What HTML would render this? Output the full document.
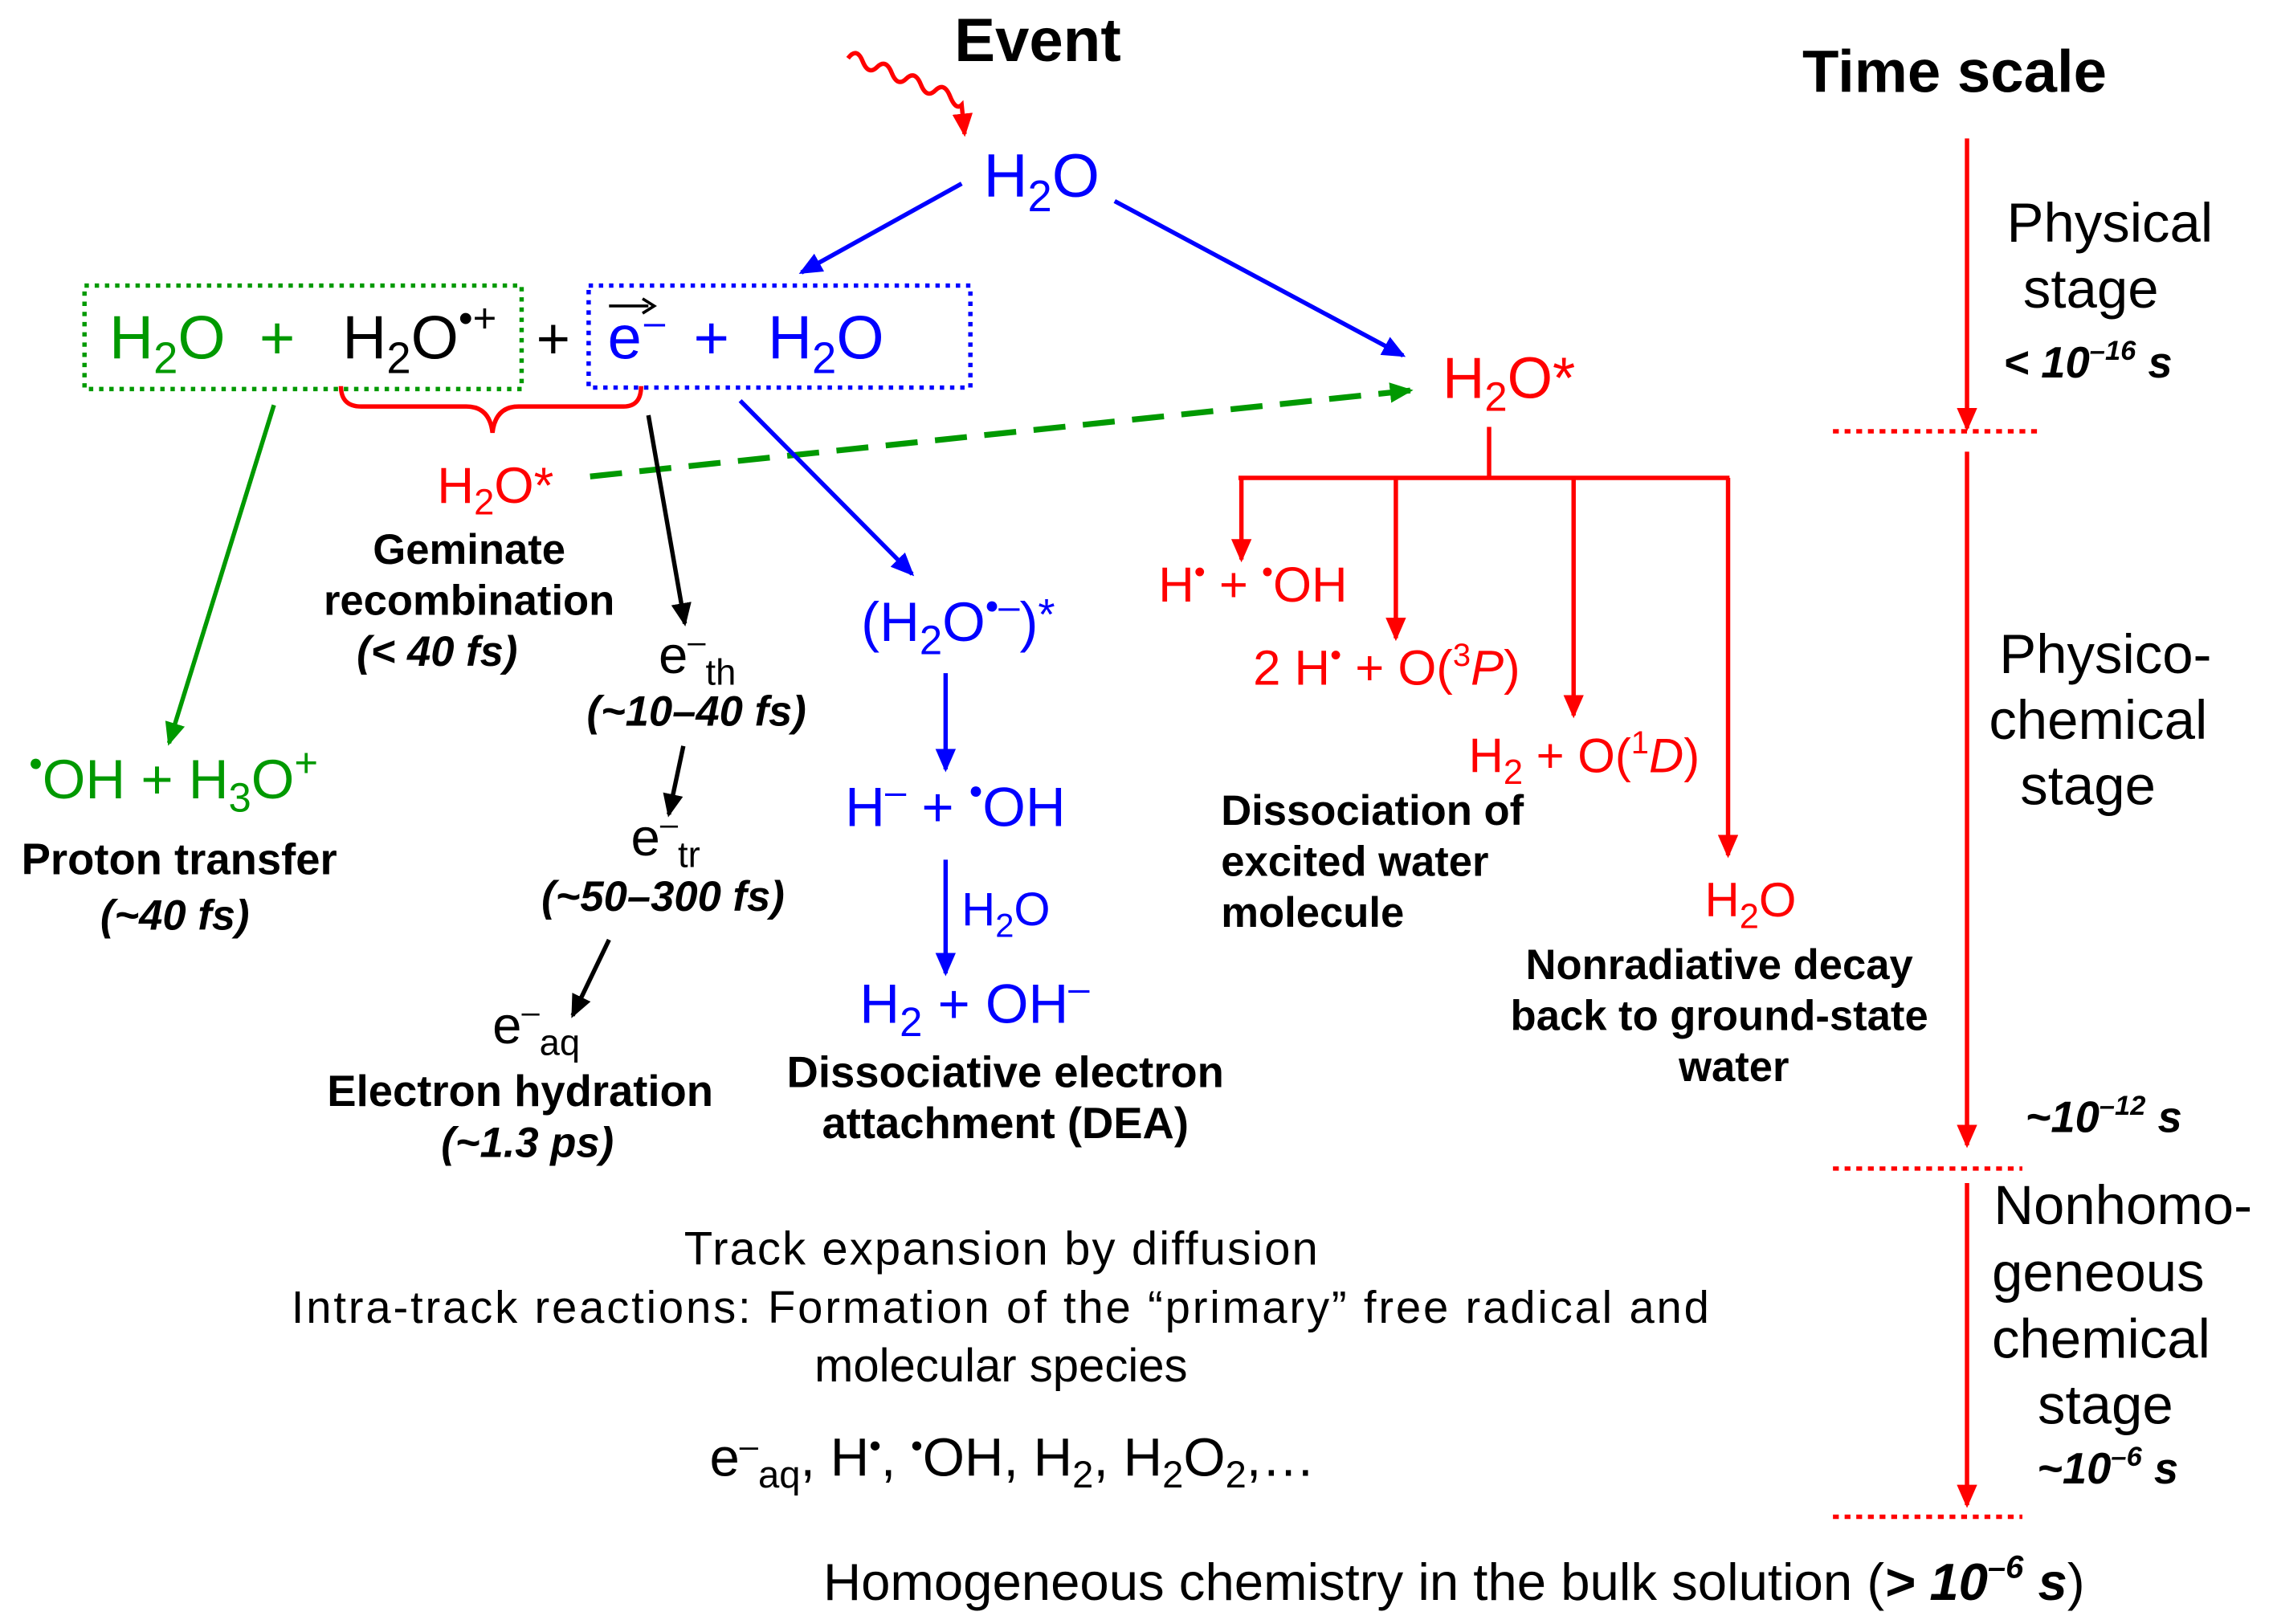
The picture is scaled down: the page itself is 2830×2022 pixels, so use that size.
<!DOCTYPE html>
<html><head><meta charset="utf-8"><style>
html,body{margin:0;padding:0;background:#fff;}
svg{display:block;}
text{font-family:"Liberation Sans",Arial,sans-serif;}
.b{font-weight:bold;}
.bi{font-weight:bold;font-style:italic;}
</style></head><body>
<svg width="2830" height="2022" viewBox="0 0 1560 1114.6" preserveAspectRatio="none" xmlns="http://www.w3.org/2000/svg">
<defs>
<marker id="mBlue" markerWidth="16" markerHeight="14" refX="14" refY="7" orient="auto" markerUnits="userSpaceOnUse"><path d="M0,0 L16,7 L0,14 z" fill="#0000ff"/></marker>
<marker id="mRed" markerWidth="16" markerHeight="14" refX="14" refY="7" orient="auto" markerUnits="userSpaceOnUse"><path d="M0,0 L16,7 L0,14 z" fill="#ff0000"/></marker>
<marker id="mGreen" markerWidth="16" markerHeight="14" refX="14" refY="7" orient="auto" markerUnits="userSpaceOnUse"><path d="M0,0 L16,7 L0,14 z" fill="#009900"/></marker>
<marker id="mBlack" markerWidth="16" markerHeight="14" refX="14" refY="7" orient="auto" markerUnits="userSpaceOnUse"><path d="M0,0 L16,7 L0,14 z" fill="#000"/></marker>
</defs>

<!-- Event -->
<text x="655" y="42" font-size="42" class="b">Event</text>
<path d="M582,40 q6,-8 10,2 t10,4 t10,4 t10,4 t10,4 t10,4 t10,4 t8,6 L662,92" fill="none" stroke="#ff0000" stroke-width="3" marker-end="url(#mRed)"/>
<text x="675" y="135" font-size="42" fill="#0000ff">H<tspan font-size="30" dy="10">2</tspan><tspan dy="-10">O</tspan></text>
<line x1="660" y1="126" x2="550" y2="187" stroke="#0000ff" stroke-width="3" marker-end="url(#mBlue)"/>
<line x1="765" y1="138" x2="963" y2="244" stroke="#0000ff" stroke-width="3" marker-end="url(#mBlue)"/>

<!-- boxes -->
<rect x="58" y="196" width="300" height="71" fill="none" stroke="#009900" stroke-width="3" stroke-dasharray="3,4"/>
<rect x="404" y="196" width="262" height="70" fill="none" stroke="#0000ff" stroke-width="3" stroke-dasharray="3,4"/>
<text x="75" y="246" font-size="42" fill="#009900">H<tspan font-size="30" dy="10">2</tspan><tspan dy="-10">O</tspan></text>
<text x="178" y="246" font-size="42" fill="#009900">+</text>
<text x="235" y="246" font-size="42" fill="#000">H<tspan font-size="30" dy="10">2</tspan><tspan dy="-10">O</tspan><tspan font-size="28" dy="-18">•+</tspan></text>
<text x="368" y="246" font-size="40">+</text>
<text x="417" y="246" font-size="42" fill="#0000ff">e</text>
<line x1="418" y1="210" x2="445" y2="210" stroke="#000" stroke-width="2"/><path d="M441,205 L449,210 L441,215" fill="none" stroke="#000" stroke-width="2"/>
<text x="442" y="230" font-size="26" fill="#0000ff">–</text>
<text x="476" y="246" font-size="42" fill="#0000ff">+</text>
<text x="527" y="246" font-size="42" fill="#0000ff">H<tspan font-size="30" dy="10">2</tspan><tspan dy="-10">O</tspan></text>

<!-- brace -->
<path d="M234,265 q0,14 14,14 L320,279 q16,0 18,18 q2,-18 18,-18 L428,279 q12,0 12,-14" fill="none" stroke="#ff0000" stroke-width="3"/>
<text x="300" y="345" font-size="35" fill="#ff0000">H<tspan font-size="25" dy="8">2</tspan><tspan dy="-8">O*</tspan></text>
<line x1="405" y1="327" x2="968" y2="268" stroke="#009900" stroke-width="4" stroke-dasharray="22,12" marker-end="url(#mGreen)"/>
<text x="322" y="387" font-size="29" class="b" text-anchor="middle">Geminate</text>
<text x="322" y="422" font-size="29" class="b" text-anchor="middle">recombination</text>
<text x="300" y="457" font-size="29" class="bi" text-anchor="middle">(&lt; 40 fs)</text>

<!-- green proton transfer -->
<line x1="188" y1="278" x2="116" y2="510" stroke="#009900" stroke-width="3" marker-end="url(#mGreen)"/>
<text x="20" y="548" font-size="38" fill="#009900"><tspan font-size="26" dy="-15">•</tspan><tspan dy="15">OH + H</tspan><tspan font-size="28" dy="9">3</tspan><tspan dy="-9">O</tspan><tspan font-size="28" dy="-15">+</tspan></text>
<text x="123" y="600" font-size="30" class="b" text-anchor="middle">Proton transfer</text>
<text x="120" y="638" font-size="29" class="bi" text-anchor="middle">(~40 fs)</text>

<!-- electron chain -->
<line x1="445" y1="285" x2="470" y2="428" stroke="#000" stroke-width="3" marker-end="url(#mBlack)"/>
<text x="452" y="462" font-size="36">e<tspan font-size="22" dy="-14">–</tspan><tspan font-size="25" dy="22">th</tspan></text>
<text x="478" y="498" font-size="29" class="bi" text-anchor="middle">(~10–40 fs)</text>
<line x1="469" y1="512" x2="459" y2="559" stroke="#000" stroke-width="3" marker-end="url(#mBlack)"/>
<text x="433" y="587" font-size="36">e<tspan font-size="22" dy="-14">–</tspan><tspan font-size="25" dy="22">tr</tspan></text>
<text x="455" y="625" font-size="29" class="bi" text-anchor="middle">(~50–300 fs)</text>
<line x1="418" y1="645" x2="393" y2="697" stroke="#000" stroke-width="3" marker-end="url(#mBlack)"/>
<text x="338" y="716" font-size="36">e<tspan font-size="22" dy="-14">–</tspan><tspan font-size="25" dy="22">aq</tspan></text>
<text x="357" y="759" font-size="30" class="b" text-anchor="middle">Electron hydration</text>
<text x="362" y="794" font-size="29" class="bi" text-anchor="middle">(~1.3 ps)</text>

<!-- DEA -->
<line x1="508" y1="275" x2="626" y2="394" stroke="#0000ff" stroke-width="3" marker-end="url(#mBlue)"/>
<text x="591" y="440" font-size="38" fill="#0000ff">(H<tspan font-size="28" dy="9">2</tspan><tspan dy="-9">O</tspan><tspan font-size="26" dy="-15">•–</tspan><tspan dy="15">)</tspan><tspan font-size="30" dy="-8">*</tspan></text>
<line x1="649" y1="462" x2="649" y2="528" stroke="#0000ff" stroke-width="3" marker-end="url(#mBlue)"/>
<text x="580" y="567" font-size="38" fill="#0000ff">H<tspan font-size="26" dy="-15">–</tspan><tspan dy="15"> + </tspan><tspan font-size="26" dy="-15">•</tspan><tspan dy="15">OH</tspan></text>
<line x1="649" y1="590" x2="649" y2="668" stroke="#0000ff" stroke-width="3" marker-end="url(#mBlue)"/>
<text x="660" y="635" font-size="32" fill="#0000ff">H<tspan font-size="23" dy="8">2</tspan><tspan dy="-8">O</tspan></text>
<text x="590" y="702" font-size="38" fill="#0000ff">H<tspan font-size="28" dy="9">2</tspan><tspan dy="-9"> + OH</tspan><tspan font-size="26" dy="-15">–</tspan></text>
<text x="690" y="746" font-size="30" class="b" text-anchor="middle">Dissociative electron</text>
<text x="690" y="781" font-size="30" class="b" text-anchor="middle">attachment (DEA)</text>

<!-- excited water -->
<text x="990" y="273" font-size="40" fill="#ff0000">H<tspan font-size="28" dy="9">2</tspan><tspan dy="-9">O*</tspan></text>
<path d="M1022,293 L1022,328 M850,328 L1187,328" stroke="#ff0000" stroke-width="3" fill="none"/>
<line x1="852" y1="328" x2="852" y2="384" stroke="#ff0000" stroke-width="3" marker-end="url(#mRed)"/>
<line x1="958" y1="328" x2="958" y2="438" stroke="#ff0000" stroke-width="3" marker-end="url(#mRed)"/>
<line x1="1080" y1="328" x2="1080" y2="491" stroke="#ff0000" stroke-width="3" marker-end="url(#mRed)"/>
<line x1="1186" y1="328" x2="1186" y2="587" stroke="#ff0000" stroke-width="3" marker-end="url(#mRed)"/>
<text x="795" y="413" font-size="34" fill="#ff0000">H<tspan font-size="22" dy="-13">•</tspan><tspan dy="13"> + </tspan><tspan font-size="22" dy="-13">•</tspan><tspan dy="13">OH</tspan></text>
<text x="860" y="470" font-size="34" fill="#ff0000">2 H<tspan font-size="22" dy="-13">•</tspan><tspan dy="13"> + O(</tspan><tspan font-size="22" dy="-13">3</tspan><tspan dy="13" font-style="italic">P</tspan>)</text>
<text x="1008" y="530" font-size="33" fill="#ff0000">H<tspan font-size="24" dy="8">2</tspan><tspan dy="-8"> + O(</tspan><tspan font-size="22" dy="-13">1</tspan><tspan dy="13" font-style="italic">D</tspan>)</text>
<text x="1170" y="629" font-size="33" fill="#ff0000">H<tspan font-size="24" dy="8">2</tspan><tspan dy="-8">O</tspan></text>
<text x="838" y="566" font-size="29" class="b">Dissociation of</text>
<text x="838" y="601" font-size="29" class="b">excited water</text>
<text x="838" y="636" font-size="29" class="b">molecule</text>
<text x="1180" y="672" font-size="29" class="b" text-anchor="middle">Nonradiative decay</text>
<text x="1180" y="707" font-size="29" class="b" text-anchor="middle">back to ground-state</text>
<text x="1190" y="742" font-size="29" class="b" text-anchor="middle">water</text>

<!-- bottom -->
<text x="687" y="868" font-size="32" text-anchor="middle" textLength="435" lengthAdjust="spacing">Track expansion by diffusion</text>
<text x="200" y="908" font-size="31" textLength="973" lengthAdjust="spacing">Intra-track reactions: Formation of the “primary” free radical and</text>
<text x="687" y="948" font-size="32" text-anchor="middle">molecular species</text>
<text x="487" y="1013" font-size="37">e<tspan font-size="23" dy="-13">–</tspan><tspan font-size="26" dy="21">aq</tspan><tspan dy="-8">, H</tspan><tspan font-size="23" dy="-13">•</tspan><tspan dy="13">, </tspan><tspan font-size="23" dy="-13">•</tspan><tspan dy="13">OH, H</tspan><tspan font-size="26" dy="8">2</tspan><tspan dy="-8">, H</tspan><tspan font-size="26" dy="8">2</tspan><tspan dy="-8">O</tspan><tspan font-size="26" dy="8">2</tspan><tspan dy="-8">,…</tspan></text>
<text x="565" y="1098" font-size="36">Homogeneous chemistry in the bulk solution (<tspan class="bi">&gt; 10</tspan><tspan class="bi" font-size="22" dy="-15">–6</tspan><tspan class="bi" dy="15"> s</tspan>)</text>

<!-- time scale -->
<text x="1237" y="63" font-size="41" class="b">Time scale</text>
<line x1="1350" y1="95" x2="1350" y2="294" stroke="#ff0000" stroke-width="3" marker-end="url(#mRed)"/>
<line x1="1350" y1="310" x2="1350" y2="786" stroke="#ff0000" stroke-width="3" marker-end="url(#mRed)"/>
<line x1="1350" y1="812" x2="1350" y2="1033" stroke="#ff0000" stroke-width="3" marker-end="url(#mRed)"/>
<line x1="1258" y1="296" x2="1398" y2="296" stroke="#ff0000" stroke-width="3" stroke-dasharray="4,4"/>
<line x1="1258" y1="802" x2="1388" y2="802" stroke="#ff0000" stroke-width="3" stroke-dasharray="4,4"/>
<line x1="1258" y1="1041" x2="1388" y2="1041" stroke="#ff0000" stroke-width="3" stroke-dasharray="4,4"/>
<text x="1448" y="166" font-size="38" text-anchor="middle">Physical</text>
<text x="1435" y="211" font-size="38" text-anchor="middle">stage</text>
<text x="1375" y="259" font-size="30" class="bi">&lt; 10<tspan font-size="19" dy="-12">–16</tspan><tspan dy="12"> s</tspan></text>
<text x="1445" y="462" font-size="38" text-anchor="middle">Physico-</text>
<text x="1440" y="507" font-size="38" text-anchor="middle">chemical</text>
<text x="1433" y="552" font-size="38" text-anchor="middle">stage</text>
<text x="1390" y="777" font-size="30" class="bi">~10<tspan font-size="19" dy="-12">–12</tspan><tspan dy="12"> s</tspan></text>
<text x="1457" y="840" font-size="38" text-anchor="middle">Nonhomo-</text>
<text x="1440" y="886" font-size="38" text-anchor="middle">geneous</text>
<text x="1442" y="932" font-size="38" text-anchor="middle">chemical</text>
<text x="1445" y="977" font-size="38" text-anchor="middle">stage</text>
<text x="1398" y="1018" font-size="30" class="bi">~10<tspan font-size="19" dy="-12">–6</tspan><tspan dy="12"> s</tspan></text>
</svg>
</body></html>
